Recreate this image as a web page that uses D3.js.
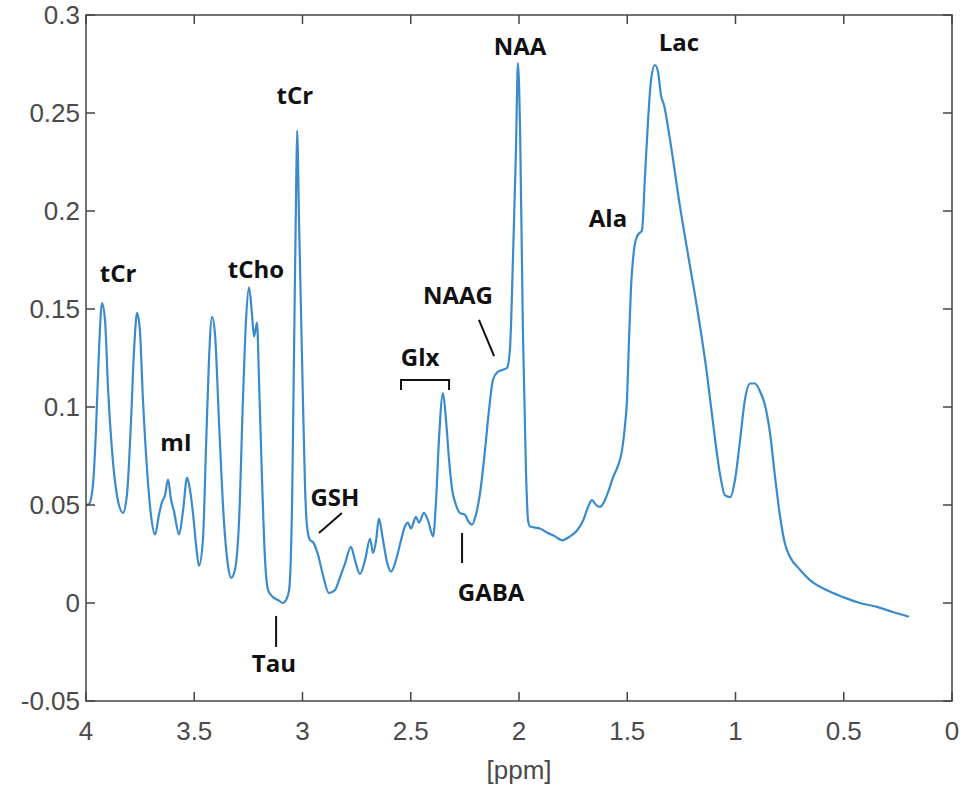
<!DOCTYPE html>
<html>
<head>
<meta charset="utf-8">
<script src="https://cdn.jsdelivr.net/npm/d3@7"></script>
<style>
  html, body { margin: 0; padding: 0; background: #fff; }
  svg { display: block; }
  .tick-label { font-family: "Liberation Sans", Arial, sans-serif; font-size: 26px; fill: #4a4a4a; }
  .anno { font-family: "Open Sans", sans-serif; font-weight: 700; font-size: 24px; fill: #111; }
</style>
</head>
<body>
<svg id="chart" width="963" height="789"></svg>
<script>
// spectrum: chemical shift [ppm] and signal
var ppm = [4.000, 3.986, 3.968, 3.954, 3.940, 3.926, 3.912, 3.898, 3.880, 3.857, 3.829, 3.811, 3.792, 3.778, 3.764, 3.751, 3.737, 3.718, 3.700, 3.681,
  3.663, 3.649, 3.635, 3.621, 3.607, 3.594, 3.570, 3.552, 3.533, 3.520, 3.506, 3.492, 3.478, 3.460, 3.446, 3.432, 3.418, 3.404, 3.386, 3.363,
  3.344, 3.330, 3.312, 3.293, 3.275, 3.261, 3.247, 3.233, 3.224, 3.210, 3.201, 3.187, 3.173, 3.159, 3.136, 3.113, 3.090, 3.076, 3.062, 3.048,
  3.039, 3.030, 3.025, 3.016, 3.002, 2.988, 2.979, 2.965, 2.951, 2.928, 2.905, 2.878, 2.850, 2.827, 2.804, 2.776, 2.758, 2.734, 2.711, 2.688,
  2.674, 2.660, 2.647, 2.628, 2.610, 2.591, 2.568, 2.545, 2.527, 2.513, 2.499, 2.476, 2.462, 2.439, 2.420, 2.397, 2.383, 2.370, 2.351, 2.337,
  2.323, 2.309, 2.291, 2.273, 2.249, 2.236, 2.217, 2.199, 2.180, 2.157, 2.139, 2.120, 2.097, 2.074, 2.055, 2.042, 2.028, 2.014, 2.005, 1.995,
  1.982, 1.968, 1.958, 1.949, 1.903, 1.871, 1.834, 1.801, 1.764, 1.732, 1.704, 1.686, 1.663, 1.644, 1.626, 1.603, 1.584, 1.566, 1.543, 1.524,
  1.510, 1.501, 1.492, 1.483, 1.469, 1.455, 1.441, 1.432, 1.418, 1.404, 1.390, 1.372, 1.358, 1.344, 1.330, 1.302, 1.256, 1.215, 1.178, 1.132,
  1.104, 1.072, 1.049, 1.025, 1.002, 0.979, 0.956, 0.933, 0.910, 0.887, 0.864, 0.841, 0.818, 0.794, 0.771, 0.748, 0.702, 0.656, 0.587, 0.503,
  0.425, 0.346, 0.273, 0.199];
var signal = [0.050, 0.0505, 0.060, 0.088, 0.129, 0.153, 0.144, 0.109, 0.078, 0.055, 0.046, 0.055, 0.093, 0.129, 0.148, 0.139, 0.104, 0.068, 0.045, 0.035,
  0.045, 0.0515, 0.055, 0.063, 0.0525, 0.047, 0.035, 0.047, 0.064, 0.058, 0.046, 0.030, 0.019, 0.032, 0.078, 0.124, 0.146, 0.137, 0.093, 0.042,
  0.019, 0.0128, 0.017, 0.042, 0.104, 0.144, 0.161, 0.147, 0.136, 0.143, 0.114, 0.063, 0.022, 0.0066, 0.003, 0.0015, 0.000, 0.0015, 0.0066, 0.052,
  0.129, 0.206, 0.241, 0.195, 0.124, 0.058, 0.039, 0.032, 0.031, 0.0245, 0.014, 0.005, 0.0066, 0.013, 0.020, 0.0286, 0.022, 0.0148, 0.022, 0.0327,
  0.0255, 0.032, 0.043, 0.032, 0.021, 0.016, 0.022, 0.032, 0.039, 0.041, 0.038, 0.044, 0.041, 0.046, 0.042, 0.034, 0.0525, 0.083, 0.107, 0.093,
  0.073, 0.058, 0.050, 0.046, 0.045, 0.042, 0.040, 0.045, 0.056, 0.078, 0.098, 0.114, 0.118, 0.119, 0.120, 0.129, 0.175, 0.231, 0.2755, 0.241,
  0.139, 0.068, 0.042, 0.039, 0.038, 0.036, 0.034, 0.032, 0.034, 0.037, 0.042, 0.0475, 0.0525, 0.050, 0.049, 0.0525, 0.058, 0.064, 0.070, 0.078,
  0.091, 0.104, 0.134, 0.160, 0.180, 0.187, 0.189, 0.190, 0.218, 0.246, 0.267, 0.2745, 0.271, 0.259, 0.254, 0.236, 0.202, 0.175, 0.151, 0.117,
  0.092, 0.066, 0.055, 0.054, 0.063, 0.083, 0.104, 0.112, 0.112, 0.108, 0.101, 0.087, 0.065, 0.044, 0.030, 0.0235, 0.017, 0.0117, 0.007, 0.003,
  0.000, -0.002, -0.0046, -0.007];

var xTicks = [4, 3.5, 3, 2.5, 2, 1.5, 1, 0.5, 0];
var yTicks = [-0.05, 0, 0.05, 0.1, 0.15, 0.2, 0.25, 0.3];
var xTitle = "[ppm]";

// metabolite labels (text anchor in ppm / signal units)
var labelNames = ["tCr", "mI", "tCho", "tCr", "GSH", "Tau", "Glx", "NAAG", "GABA", "NAA", "Ala", "Lac"];
var labelPpm = [3.852, 3.584, 3.215, 3.035, 2.850, 3.132, 2.457, 2.282, 2.129, 1.995, 1.589, 1.261];
var labelSig = [0.164, 0.0776, 0.166, 0.2546, 0.0495, -0.0352, 0.121, 0.1526, 0.001, 0.2796, 0.1918, 0.2816];
// leader lines: [ppm1, sig1, ppm2, sig2]
var leaders = [[2.924, 0.0357, 2.818, 0.0459], [3.122, -0.0066, 3.122, -0.0224], [2.185, 0.1444, 2.115, 0.126], [2.263, 0.0357, 2.263, 0.0204]];
var glxBracket = [2.545, 2.323, 0.1138, 0.1087];

(function () {
  var svg = d3.select("#chart"),
      mLeft = 86, mRight = 952, mTop = 15, mBottom = 701,
      axisColor = "#454545", tickLen = 9;

  var x = d3.scaleLinear().domain([4, 0]).range([mLeft, mRight]);
  var y = d3.scaleLinear().domain([-0.05, 0.3]).range([mBottom, mTop]);

  var data = ppm.map(function (p, i) { return {ppm: p, s: signal[i]}; });

  svg.append("path").datum(data)
    .attr("d", d3.line().x(function (d) { return x(d.ppm); }).y(function (d) { return y(d.s); }).curve(d3.curveMonotoneX))
    .attr("fill", "none").attr("stroke", "#3a8bcd").attr("stroke-width", 2.2).attr("stroke-linejoin", "round");

  // box + inward ticks
  var g = svg.append("g");
  g.append("rect").attr("x", mLeft).attr("y", mTop).attr("width", mRight - mLeft).attr("height", mBottom - mTop)
    .attr("fill", "none").attr("stroke", axisColor).attr("stroke-width", 1.5);
  xTicks.forEach(function (t) {
    g.append("line").attr("x1", x(t)).attr("x2", x(t)).attr("y1", mBottom).attr("y2", mBottom - tickLen).attr("stroke", axisColor).attr("stroke-width", 1.5);
    g.append("line").attr("x1", x(t)).attr("x2", x(t)).attr("y1", mTop).attr("y2", mTop + tickLen).attr("stroke", axisColor).attr("stroke-width", 1.5);
    g.append("text").attr("class", "tick-label").attr("x", x(t)).attr("y", mBottom + 39).attr("text-anchor", "middle").text(t);
  });
  yTicks.forEach(function (t) {
    g.append("line").attr("x1", mLeft).attr("x2", mLeft + tickLen).attr("y1", y(t)).attr("y2", y(t)).attr("stroke", axisColor).attr("stroke-width", 1.5);
    g.append("line").attr("x1", mRight).attr("x2", mRight - tickLen).attr("y1", y(t)).attr("y2", y(t)).attr("stroke", axisColor).attr("stroke-width", 1.5);
    g.append("text").attr("class", "tick-label").attr("x", mLeft - 6).attr("y", y(t) + 9).attr("text-anchor", "end").text(t);
  });
  g.append("text").attr("class", "tick-label").attr("x", (mLeft + mRight) / 2).attr("y", 779).attr("text-anchor", "middle").text(xTitle);

  // annotations
  var a = svg.append("g");
  labelNames.forEach(function (n, i) {
    a.append("text").attr("class", "anno").attr("x", x(labelPpm[i])).attr("y", y(labelSig[i])).attr("text-anchor", "middle").text(n);
  });
  leaders.forEach(function (l) {
    a.append("line").attr("x1", x(l[0])).attr("y1", y(l[1])).attr("x2", x(l[2])).attr("y2", y(l[3])).attr("stroke", "#111").attr("stroke-width", 2);
  });
  a.append("path")
    .attr("d", "M" + x(glxBracket[0]) + "," + y(glxBracket[3]) + "V" + y(glxBracket[2]) + "H" + x(glxBracket[1]) + "V" + y(glxBracket[3]))
    .attr("fill", "none").attr("stroke", "#111").attr("stroke-width", 2);
})();
</script>
</body>
</html>
